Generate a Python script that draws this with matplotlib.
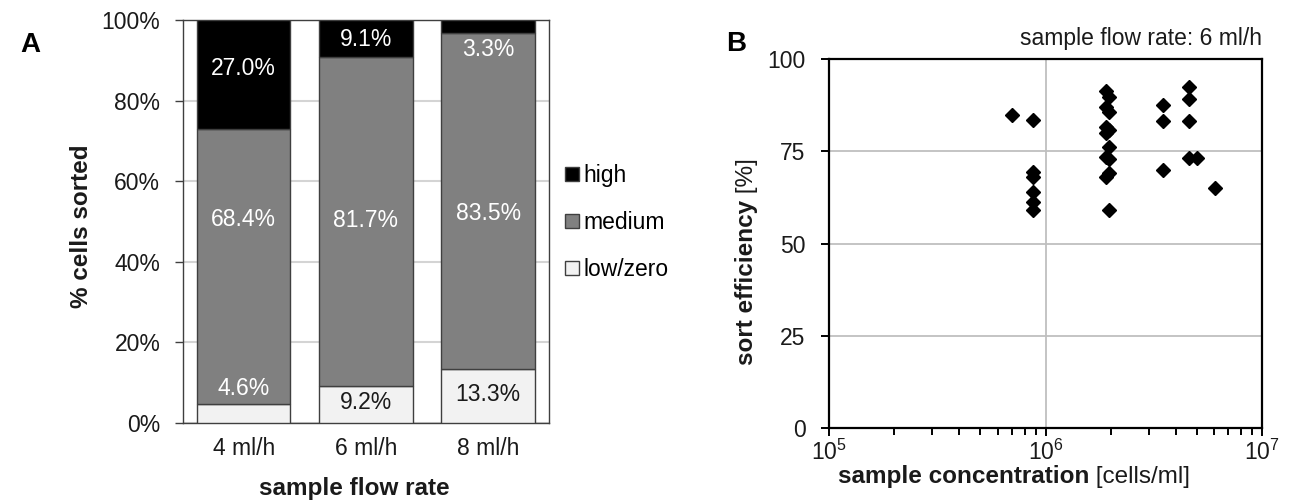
import matplotlib
matplotlib.use("Agg")
import matplotlib.pyplot as plt
from matplotlib.patches import Patch
from matplotlib.ticker import LogLocator

plt.rcParams['font.family'] = ['Liberation Sans', 'DejaVu Sans']

# ---------------- data ----------------
flow_rates = ["4 ml/h", "6 ml/h", "8 ml/h"]
low_zero = [4.6, 9.2, 13.3]
medium = [68.4, 81.7, 83.5]
high = [27.0, 9.1, 3.3]

# label positions (in % units) and colours for the value labels
low_label_y = [8.5, 5.0, 6.9]
low_label_col = ["white", "#1a1a1a", "#1a1a1a"]
med_label_y = [50.5, 50.3, 52.0]
high_label_y = [88.0, 95.2, 92.7]

conc = [7.0e5, 8.8e5, 8.8e5, 8.8e5, 8.8e5, 8.8e5, 8.8e5,
        1.9e6, 1.96e6, 1.9e6, 1.96e6, 1.9e6, 1.96e6, 1.9e6, 1.96e6, 1.9e6, 1.96e6,
        1.9e6, 1.96e6, 1.96e6,
        3.5e6, 3.5e6, 3.5e6,
        4.6e6, 4.6e6, 4.6e6, 4.6e6, 5.0e6,
        6.1e6]
efficiency = [84.8, 83.5, 69.5, 68.1, 64.1, 61.4, 59.1,
              91.2, 89.8, 87.1, 85.7, 81.7, 80.8, 79.9, 76.1, 73.5, 72.8,
              68.0, 69.0, 59.1,
              87.5, 83.3, 69.9,
              92.5, 89.2, 83.3, 73.3, 73.3,
              65.0]

W, H = 1293, 504
fig = plt.figure(figsize=(W / 100, H / 100), dpi=100)

def fx(px):
    return px / W

def fy(py):
    return 1 - py / H

TICK_FS = 16.5
BOLD_FS = 17.5
TXT = "#1a1a1a"

# ---------------- panel A ----------------
axA = fig.add_axes([fx(182.5), fy(422.7), fx(549.3 - 182.5), (422.7 - 20) / H])
xpos = range(len(flow_rates))
edge = "#3f3f3f"
bw = 0.765
axA.bar(xpos, low_zero, bw, color="#f2f2f2", edgecolor=edge, linewidth=1, zorder=3, label="low/zero")
axA.bar(xpos, medium, bw, bottom=low_zero, color="#808080", edgecolor=edge, linewidth=1, zorder=3, label="medium")
bot2 = [a + b for a, b in zip(low_zero, medium)]
axA.bar(xpos, high, bw, bottom=bot2, color="black", edgecolor=edge, linewidth=1, zorder=3, label="high")

for i in xpos:
    axA.text(i, low_label_y[i], f"{low_zero[i]:.1f}%", ha="center", va="center",
             color=low_label_col[i], fontsize=TICK_FS, zorder=5)
    axA.text(i, med_label_y[i], f"{medium[i]:.1f}%", ha="center", va="center",
             color="white", fontsize=TICK_FS, zorder=5)
    axA.text(i, high_label_y[i], f"{high[i]:.1f}%", ha="center", va="center",
             color="white", fontsize=TICK_FS, zorder=5)

axA.set_xlim(-0.5, 2.5)
axA.set_ylim(0, 100)
axA.set_yticks(range(0, 101, 20))
axA.set_yticklabels([f"{v}%" for v in range(0, 101, 20)])
axA.set_xticks(list(xpos))
axA.set_xticklabels(flow_rates)
axA.tick_params(axis="x", length=0, pad=10, labelsize=TICK_FS, colors=TXT)
axA.tick_params(axis="y", length=6, width=1, color="#3f3f3f", pad=10, labelsize=TICK_FS, labelcolor=TXT)
axA.yaxis.grid(True, color="#d4d4d4", linewidth=1.5, zorder=0)
axA.set_axisbelow(True)
for sp in axA.spines.values():
    sp.set_color("#3f3f3f")
    sp.set_linewidth(1)

fig.text(fx(82), fy(226), "% cells sorted", fontsize=BOLD_FS, fontweight="bold",
         rotation=90, ha="center", va="center", color=TXT)
fig.text(fx(354), fy(489), "sample flow rate", fontsize=BOLD_FS, fontweight="bold",
         ha="center", va="center", color=TXT)

handles = [Patch(facecolor="black", edgecolor=edge, label="high"),
           Patch(facecolor="#808080", edgecolor=edge, label="medium"),
           Patch(facecolor="#f2f2f2", edgecolor=edge, label="low/zero")]
fig.legend(handles=handles, loc="upper left", bbox_to_anchor=(fx(565), fy(164)),
           frameon=False, fontsize=TICK_FS, handlelength=0.6, handleheight=0.6,
           handletextpad=0.2, labelspacing=1.05, borderaxespad=0, borderpad=0)

fig.text(fx(30), fy(45), "A", fontsize=20, fontweight="bold", ha="center", va="center")

# ---------------- panel B ----------------
axB = fig.add_axes([fx(829.3), fy(428.3), fx(1261.7 - 829.3), (428.3 - 59) / H])
axB.plot(conc, efficiency, linestyle="none", marker="D", markersize=7,
         color="black", zorder=4)
axB.set_xscale("log")
axB.set_xlim(1e5, 1e7)
axB.set_ylim(0, 100)
axB.set_yticks([0, 25, 50, 75, 100])
axB.xaxis.set_major_locator(LogLocator(base=10, numticks=5))
axB.xaxis.set_minor_locator(LogLocator(base=10, subs=range(2, 10), numticks=20))
axB.grid(True, which="major", color="#bfbfbf", linewidth=1.3, zorder=0)
axB.set_axisbelow(True)
for sp in axB.spines.values():
    sp.set_color("black")
    sp.set_linewidth(1.6)
axB.tick_params(axis="both", which="major", length=6, width=1.4, labelsize=TICK_FS,
                labelcolor=TXT)
axB.tick_params(axis="y", which="major", pad=11)
axB.tick_params(axis="x", which="minor", length=5, width=1.4)
axB.tick_params(axis="x", which="major", pad=2)

fig.text(fx(1262), fy(39), "sample flow rate: 6 ml/h", fontsize=TICK_FS,
         ha="right", va="center", color=TXT)
fig.text(fx(736), fy(44), "B", fontsize=20, fontweight="bold", ha="center", va="center")

# x label with mixed weight
t1 = fig.text(fx(838), fy(477), "sample concentration", fontsize=BOLD_FS,
              fontweight="bold", ha="left", va="center", color=TXT)
axB.annotate(" [cells/ml]", xy=(1, 0.5), xycoords=t1, ha="left", va="center",
             fontsize=BOLD_FS, color=TXT)

# y label with mixed weight (rotated)
t2 = fig.text(fx(746.7), fy(365), "sort efficiency", fontsize=BOLD_FS,
              fontweight="bold", rotation=90, ha="center", va="bottom", color=TXT)
axB.annotate(" [%]", xy=(0.5, 1), xycoords=t2, ha="center", va="bottom",
             rotation=90, fontsize=BOLD_FS, color=TXT)

fig.savefig("out.png", dpi=100)
